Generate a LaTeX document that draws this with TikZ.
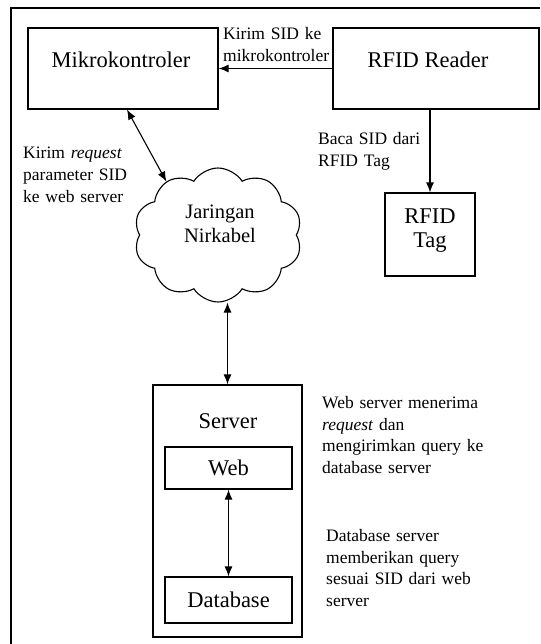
\documentclass[tikz,border=0pt]{standalone}
\usepackage{fontspec}
\setmainfont{Liberation Serif}
\usetikzlibrary{arrows.meta,shapes.symbols,calc}

\begin{document}
\begin{tikzpicture}[x=1pt,y=-1pt,
  box/.style={draw, line width=1.2pt, inner sep=0pt, rectangle},
  big/.style={font=\fontsize{22.5}{25}\selectfont, inner sep=0pt},
  small/.style={font=\fontsize{17.5}{21.7}\selectfont, execute at begin node={\spaceskip=0.33em plus 0.1em\relax},
                inner sep=0pt, align=left, anchor=north west},
  tip/.tip={Latex[length=10pt,width=8pt]},
  link/.style={line width=1.1pt, -tip},
  both/.style={line width=1.1pt, tip-tip}]

\useasboundingbox (0,0) rectangle (540,644);

% outer frame (only its top and left edges fall inside the page)
\draw[line width=1.6pt] (540,8) -- (11,8) -- (11,644);

% top row
\node[box, minimum width=190pt, minimum height=81pt] (mk) at (123,68.5) {};
\node[big] (mktext) at (121,60) {Mikrokontroler};
\node[box, minimum width=206pt, minimum height=81pt] (rr) at (436,68.5) {};
\node[big] (rrtext) at (428,60) {RFID Reader};

\draw[link] (rr.west) -- (mk.east);
\node[small] (lblsid) at (223,27) {Kirim SID ke\\mikrokontroler};

% RFID tag
\node[box, minimum width=90pt, minimum height=83pt] (tag) at (430,234.5) {};
\node[big, align=center, font=\fontsize{22.5}{24}\selectfont] (tagtext) at (430,231) {RFID\\Tag};
\draw[link] (rr.south -| tag.north) -- (tag.north);
\node[small] (lblbaca) at (318,132) {Baca SID dari\\RFID Tag};

% wireless network
\node[cloud, draw, line width=1.1pt, cloud puffs=10, cloud puff arc=115, aspect=1.3,
      minimum width=168pt, minimum height=134pt, inner sep=0pt] (net) at (218,235) {};
\node[font=\fontsize{20.5}{24}\selectfont, align=center, inner sep=0pt] (nettext) at (220,224) {Jaringan\\Nirkabel};
\draw[both] ([xshift=4pt]mk.south) -- (net.134);
\node[small] (lblreq) at (23,147) {Kirim \textit{request}\\parameter SID\\ke web server};

% server
\node[box, minimum width=149pt, minimum height=252pt] (srv) at (227.5,511) {};
\node[big] (srvtext) at (228,421) {Server};
\node[box, big, minimum width=127pt, minimum height=42pt] (web) at (228.5,468) {Web};
\node[box, big, minimum width=127pt, minimum height=46pt] (db) at (228.5,600) {Database};
\draw[both] (srv.north |- net.south) -- (srv.north);
\draw[both] (web.south) -- (db.north);

\node[small] (lblweb) at (322,396) {Web server menerima\\\textit{request} dan\\mengirimkan query ke\\database server};
\node[small] (lbldb) at (326,529) {Database server\\memberikan query\\sesuai SID dari web\\server};
\end{tikzpicture}
\end{document}
